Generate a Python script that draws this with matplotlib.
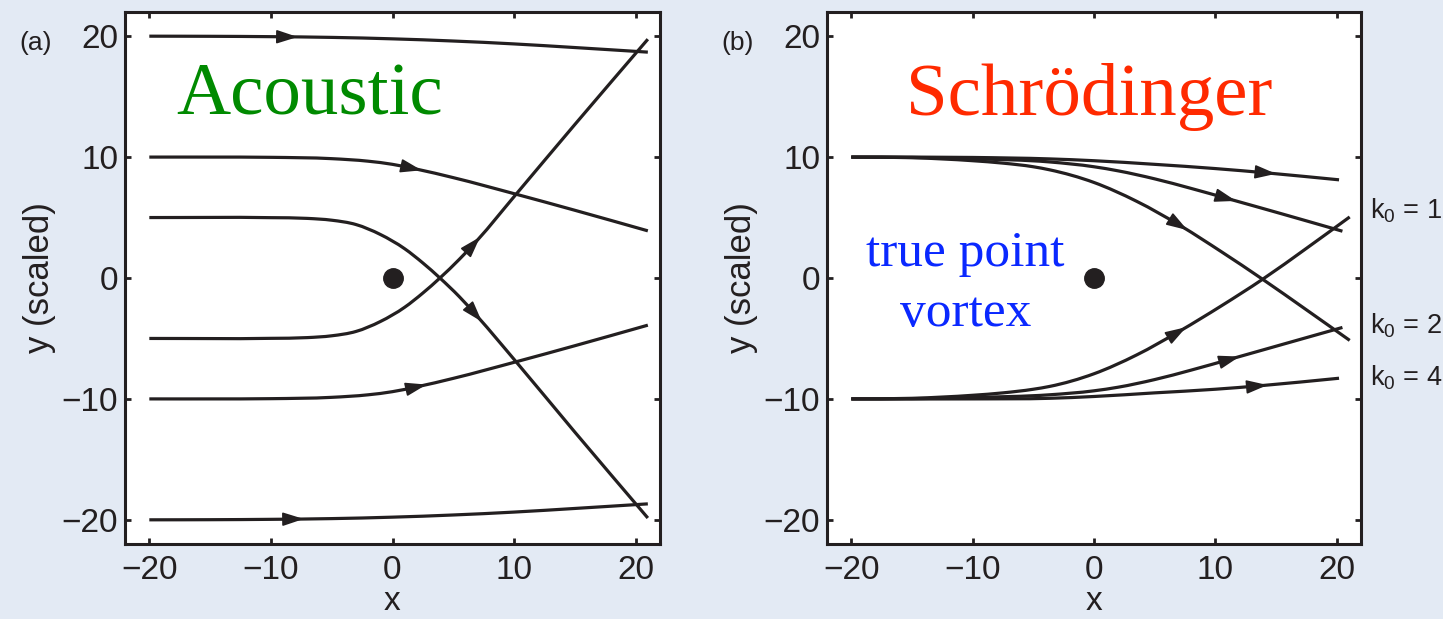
import numpy as np
import matplotlib
matplotlib.use("Agg")
import matplotlib.pyplot as plt
from matplotlib.path import Path
from matplotlib.patches import PathPatch

plt.rcParams['font.family'] = ['Liberation Sans', 'DejaVu Sans']
plt.rcParams['mathtext.fontset'] = 'custom'
plt.rcParams['mathtext.rm'] = 'Liberation Sans'
plt.rcParams['mathtext.it'] = 'Liberation Sans'

# ---- (a) acoustic rays past a point vortex ----
ac1_x = [-20, -15, -10, -5, 0, 5, 10, 15, 21]
ac1_y = [20, 19.99, 19.96, 19.9, 19.78, 19.6, 19.36, 19.06, 18.68]
ac2_x = [-20, -15, -10, -5, -2, 0, 2, 5, 10.2, 15, 21]
ac2_y = [10, 10, 9.98, 9.87, 9.66, 9.4, 9.0, 8.3, 6.92, 5.6, 3.9]
ac3_x = [-20, -10, -7, -5, -3, -1, 1, 2.5, 3.9, 5.5, 7, 10.1, 15, 21]
ac3_y = [5, 4.99, 4.93, 4.78, 4.42, 3.6, 2.42, 1.24, 0, -1.55, -3.2, -6.85, -12.75, -19.85]
ac4_x = [-20, -10, -7, -5, -3, -1, 1, 2.5, 3.9, 5.5, 7, 10.1, 15, 21]
ac4_y = [-5, -4.99, -4.93, -4.78, -4.42, -3.6, -2.42, -1.24, 0, 1.55, 3.15, 6.85, 12.7, 19.75]
ac5_x = [-20, -15, -10, -5, -2, 0, 2, 5, 10.2, 15, 21]
ac5_y = [-10, -10, -9.98, -9.87, -9.66, -9.4, -9.0, -8.3, -6.92, -5.6, -3.9]
ac6_x = [-20, -15, -10, -5, 0, 5, 10, 15, 21]
ac6_y = [-20, -19.99, -19.96, -19.9, -19.78, -19.6, -19.36, -19.06, -18.68]
ac_arrow_x = [-7.8, 2.4, 7.35, 7.2, 2.8, -7.3]

# ---- (b) Schroedinger rays for k0 = 1, 2, 4 ----
s1t_x = [-20, -15, -10, -7.5, -5, -3.67, 0, 3.5, 7.2, 10.5, 13.9, 17.5, 21.07]
s1t_y = [10, 9.95, 9.7, 9.5, 9.2, 8.95, 7.9, 6.35, 4.28, 2.17, -0.11, -2.63, -5.16]
s2t_x = [-20, -15, -10, -3.67, 0, 2, 5, 8, 11.04, 15.5, 20.47]
s2t_y = [10, 9.97, 9.86, 9.6, 9.2, 8.86, 8.2, 7.41, 6.56, 5.3, 3.87]
s4t_x = [-20, -10, -3.67, 0, 5, 10, 14.47, 20.19]
s4t_y = [10, 9.97, 9.85, 9.7, 9.4, 9.05, 8.67, 8.12]
s1b_x = [-20, -15, -10, -7.5, -5, -3.67, 0, 3.5, 7.05, 10.5, 13.9, 17.5, 21.07]
s1b_y = [-10, -9.95, -9.7, -9.5, -9.2, -8.97, -7.92, -6.37, -4.4, -2.3, -0.1, 2.45, 5.05]
s2b_x = [-20, -15, -10, -3.67, 0, 2, 5, 8, 11.45, 15.5, 20.47]
s2b_y = [-10, -9.98, -9.88, -9.66, -9.33, -9.03, -8.4, -7.62, -6.65, -5.5, -4.09]
s4b_x = [-20, -10, -3.67, 0, 5, 10, 13.8, 20.19]
s4b_y = [-10, -10, -9.95, -9.8, -9.5, -9.2, -8.9, -8.29]
sch_arrow_x = [7.7, 11.7, 15.0, 7.6, 12.0, 14.3]
k_labels = ['k$_0$ = 1', 'k$_0$ = 2', 'k$_0$ = 4']
k_label_y = [4.94, -4.6, -8.9]

vortex_x, vortex_y = [0], [0]
ticks = [-20, -10, 0, 10, 20]

INK = '#231f20'
BG = '#e3eaf4'

fig = plt.figure(figsize=(14.43, 6.19), dpi=100, facecolor=BG)
axA = fig.add_axes([125 / 1443, 75 / 619, 535 / 1443, 532 / 619])
axB = fig.add_axes([827 / 1443, 75 / 619, 534 / 1443, 532 / 619])


def smooth_path(xs, ys):
    """Cubic Bezier path through the given points with Hermite tangents."""
    x = np.asarray(xs, float)
    y = np.asarray(ys, float)
    h = np.diff(x)
    d = np.diff(y) / h
    m = np.empty_like(x)
    m[0], m[-1] = d[0], d[-1]
    m[1:-1] = (h[:-1] * d[1:] + h[1:] * d[:-1]) / (h[:-1] + h[1:])
    verts = [(x[0], y[0])]
    codes = [Path.MOVETO]
    for i in range(len(h)):
        verts += [(x[i] + h[i] / 3, y[i] + m[i] * h[i] / 3),
                  (x[i + 1] - h[i] / 3, y[i + 1] - m[i + 1] * h[i] / 3),
                  (x[i + 1], y[i + 1])]
        codes += [Path.CURVE4] * 3
    return Path(verts, codes)


def draw_ray(ax, xs, ys, xt):
    ax.add_patch(PathPatch(smooth_path(xs, ys), fill=False, edgecolor=INK,
                           lw=2.3, capstyle='butt'))
    yt = np.interp(xt, xs, ys)
    xb = xt - 0.6
    yb = np.interp(xb, xs, ys)
    ax.annotate('', xy=(xt, yt), xytext=(xb, yb),
                arrowprops=dict(arrowstyle='-|>,head_length=1.3,head_width=0.42',
                                mutation_scale=10, color=INK, lw=1.2,
                                shrinkA=0, shrinkB=0))


def style(ax):
    ax.set_xlim(-22, 22)
    ax.set_ylim(-22, 22)
    ax.set_xticks(ticks)
    ax.set_yticks(ticks)
    ax.set_facecolor('white')
    for s in ax.spines.values():
        s.set_linewidth(2.2)
        s.set_color(INK)
    ax.tick_params(direction='in', length=4, width=2, color=INK,
                   top=True, right=True, labelsize=24, labelcolor=INK)
    ax.tick_params(axis='x', pad=8)
    ax.tick_params(axis='y', pad=5)
    ax.set_xlabel('x', fontsize=24, color=INK, labelpad=0)
    ax.set_ylabel('y (scaled)', fontsize=25, color=INK, labelpad=4)


ac_curves = [(ac1_x, ac1_y), (ac2_x, ac2_y), (ac3_x, ac3_y),
             (ac4_x, ac4_y), (ac5_x, ac5_y), (ac6_x, ac6_y)]
for (xs, ys), xt in zip(ac_curves, ac_arrow_x):
    draw_ray(axA, xs, ys, xt)
axA.plot(vortex_x, vortex_y, 'o', color=INK, ms=14)
style(axA)
axA.text(-17.8, 13.5, 'Acoustic', family='Liberation Serif', fontsize=54,
         color='#008a00', ha='left', va='baseline')
axA.text(-30.7, 19.4, '(a)', fontsize=19, color=INK, ha='left', va='center',
         clip_on=False)

sch_curves = [(s1t_x, s1t_y), (s2t_x, s2t_y), (s4t_x, s4t_y),
              (s1b_x, s1b_y), (s2b_x, s2b_y), (s4b_x, s4b_y)]
for (xs, ys), xt in zip(sch_curves, sch_arrow_x):
    draw_ray(axB, xs, ys, xt)
axB.plot(vortex_x, vortex_y, 'o', color=INK, ms=14)
style(axB)
axB.text(-15.5, 13.5, 'Schrödinger', family='Liberation Serif', fontsize=54,
         color='#ff2a00', ha='left', va='baseline')
axB.text(-10.6, 1.0, 'true point', family='Liberation Serif', fontsize=37,
         color='#0a28ff', ha='center', va='baseline')
axB.text(-10.6, -3.95, 'vortex', family='Liberation Serif', fontsize=37,
         color='#0a28ff', ha='center', va='baseline')
axB.text(-30.7, 19.4, '(b)', fontsize=19, color=INK, ha='left', va='center',
         clip_on=False)
for lab, yk in zip(k_labels, k_label_y):
    axB.text(22.75, yk, lab, fontsize=19.5, color=INK, ha='left', va='baseline',
             clip_on=False)

fig.savefig('out.png', dpi=100, facecolor=BG)
